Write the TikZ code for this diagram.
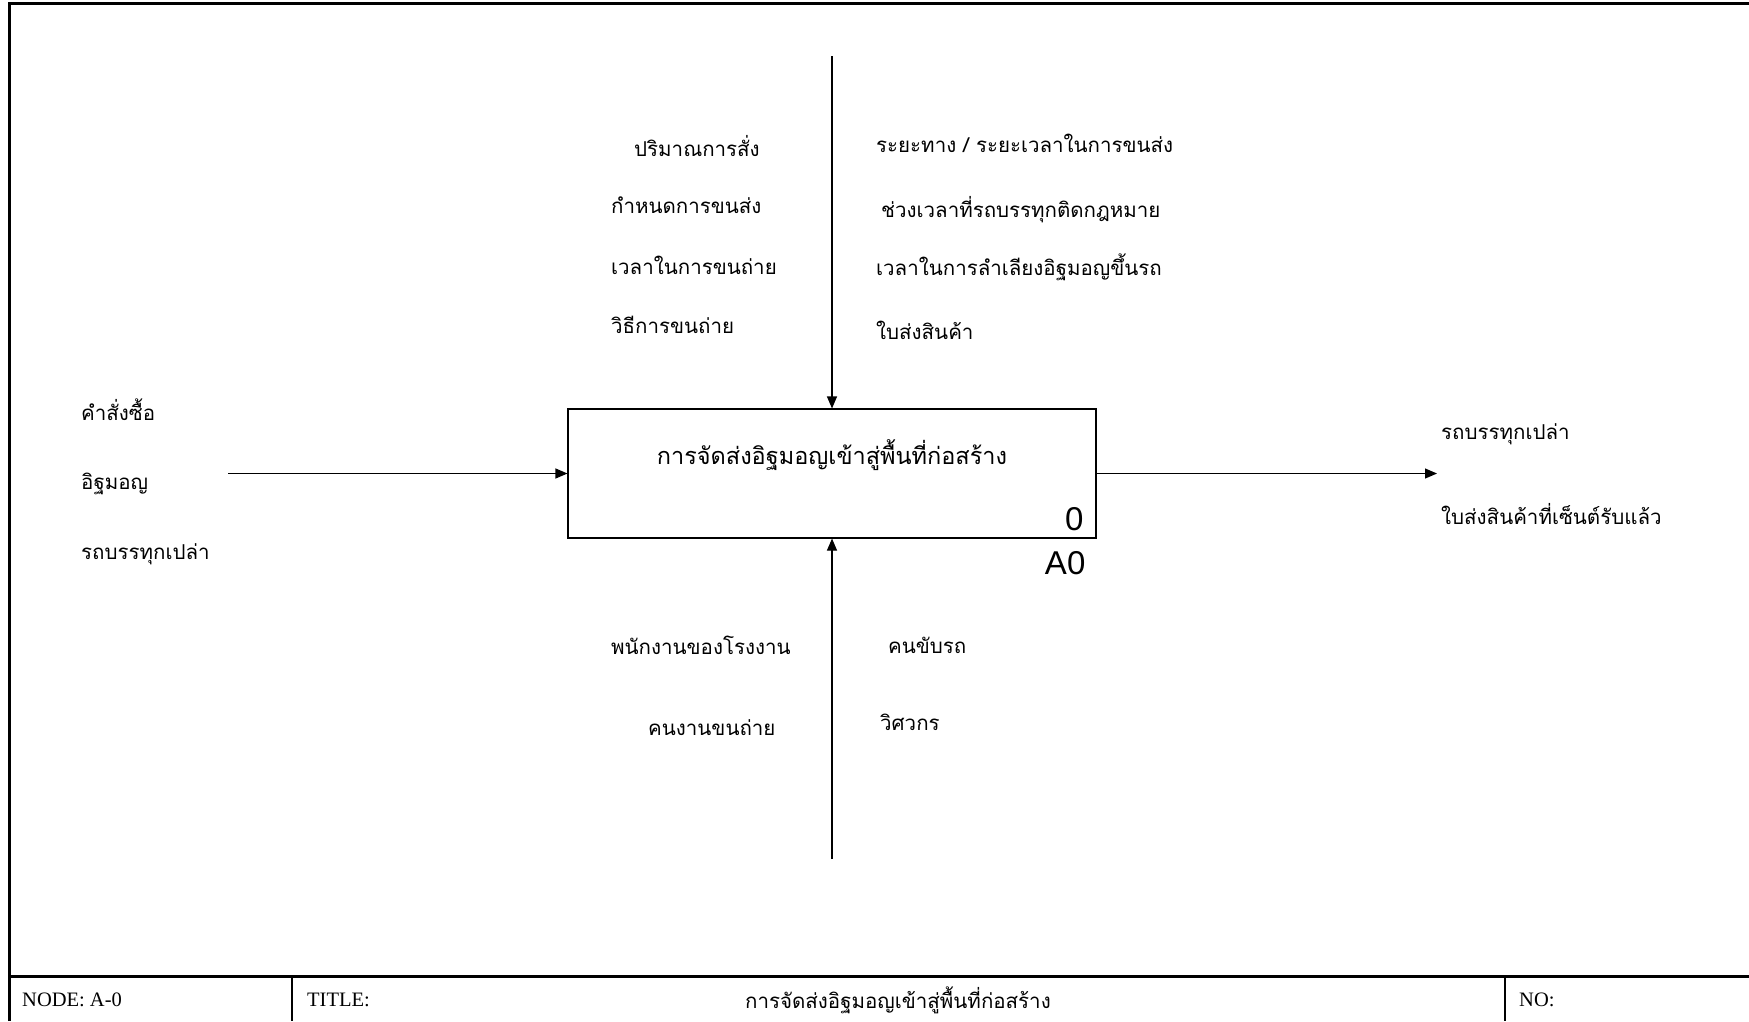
\documentclass[tikz,border=0pt]{standalone}
\usepackage{fontspec}
\setmainfont{Liberation Serif}
\newfontfamily\thaifont[Script=Thai]{Loma}
\newfontfamily\numfont{Liberation Sans}
\usepackage{tikz}
\usetikzlibrary{positioning,arrows.meta}

\begin{document}
\begin{tikzpicture}[x=1pt,y=-1pt,>={Triangle[length=12pt,width=10pt]}]
    \tikzstyle{activity}=[draw, line width=1.1pt, minimum width=528pt, minimum height=129pt, inner sep=0pt]
    \tikzstyle{flow}=[line width=1.1pt, ->]
    \tikzstyle{label}=[font=\thaifont\fontsize{20.5}{22}\selectfont, anchor=west, inner sep=0pt]
    \tikzstyle{number}=[font=\numfont\fontsize{33}{35}\selectfont, inner sep=0pt]
    \tikzstyle{footer}=[font=\fontsize{20.5}{22}\selectfont, anchor=west, inner sep=0pt]
    \tikzstyle{frame}=[line width=3pt]

    \useasboundingbox (0,0) rectangle (1749,1021);

    % Sheet frame and footer
    \draw[frame] (9,1021) -- (9,3) -- (1749,3);
    \draw[frame] (9,976) -- (1749,976);
    \draw[line width=2pt] (292,976) -- (292,1021);
    \draw[line width=2pt] (1505,976) -- (1505,1021);
    \node[footer] (node) at (22,1000) {NODE: A-0};
    \node[footer] (title) at (307,1000) {TITLE:};
    \node[label, anchor=center] (titletext) at (898,1000) {การจัดส่งอิฐมอญเข้าสู่พื้นที่ก่อสร้าง};
    \node[footer] (no) at (1519,1000) {NO:};

    % Activity box
    \node[activity] (A0) at (832,473.5) {};
    \node[label, anchor=center, font=\thaifont\fontsize{23.5}{25}\selectfont] (A0name) at (832,455) {การจัดส่งอิฐมอญเข้าสู่พื้นที่ก่อสร้าง};
    \node[number, above left=8pt and 13pt of A0.south east] (A0num) {0};
    \node[number, below left=13pt and 11pt of A0.south east] (A0id) {A0};

    % Free ends of the arrows
    \coordinate (ctrl) at (832,56);
    \coordinate (mech) at (832,859);
    \coordinate (in) at (228,473.5);
    \coordinate (out) at (1437,473.5);

    % Inputs
    \node[label] (I1) at (81,410) {คำสั่งซื้อ};
    \node[label] (I2) at (81,484) {อิฐมอญ};
    \node[label] (I3) at (81,554) {รถบรรทุกเปล่า};

    % Controls
    \node[label] (C1) at (634,146) {ปริมาณการสั่ง};
    \node[label] (C2) at (611,205) {กำหนดการขนส่ง};
    \node[label] (C3) at (611,265) {เวลาในการขนถ่าย};
    \node[label] (C4) at (611,325) {วิธีการขนถ่าย};
    \node[label] (C5) at (876,143) {ระยะทาง / ระยะเวลาในการขนส่ง};
    \node[label] (C6) at (881,210) {ช่วงเวลาที่รถบรรทุกติดกฎหมาย};
    \node[label] (C7) at (876,267) {เวลาในการลำเลียงอิฐมอญขึ้นรถ};
    \node[label] (C8) at (876,330) {ใบส่งสินค้า};

    % Outputs
    \node[label] (O1) at (1441,434) {รถบรรทุกเปล่า};
    \node[label] (O2) at (1441,514) {ใบส่งสินค้าที่เซ็นต์รับแล้ว};

    % Mechanisms
    \node[label] (M1) at (611,645) {พนักงานของโรงงาน};
    \node[label] (M2) at (648,728) {คนงานขนถ่าย};
    \node[label] (M3) at (888,645) {คนขับรถ};
    \node[label] (M4) at (880,722) {วิศวกร};

    % Arrows
    \draw[flow] (ctrl) -- (A0.north);
    \draw[flow] (mech) -- (A0.south);
    \draw[flow] (in) -- (A0.west);
    \draw[flow] (A0.east) -- (out);
\end{tikzpicture}
\end{document}
